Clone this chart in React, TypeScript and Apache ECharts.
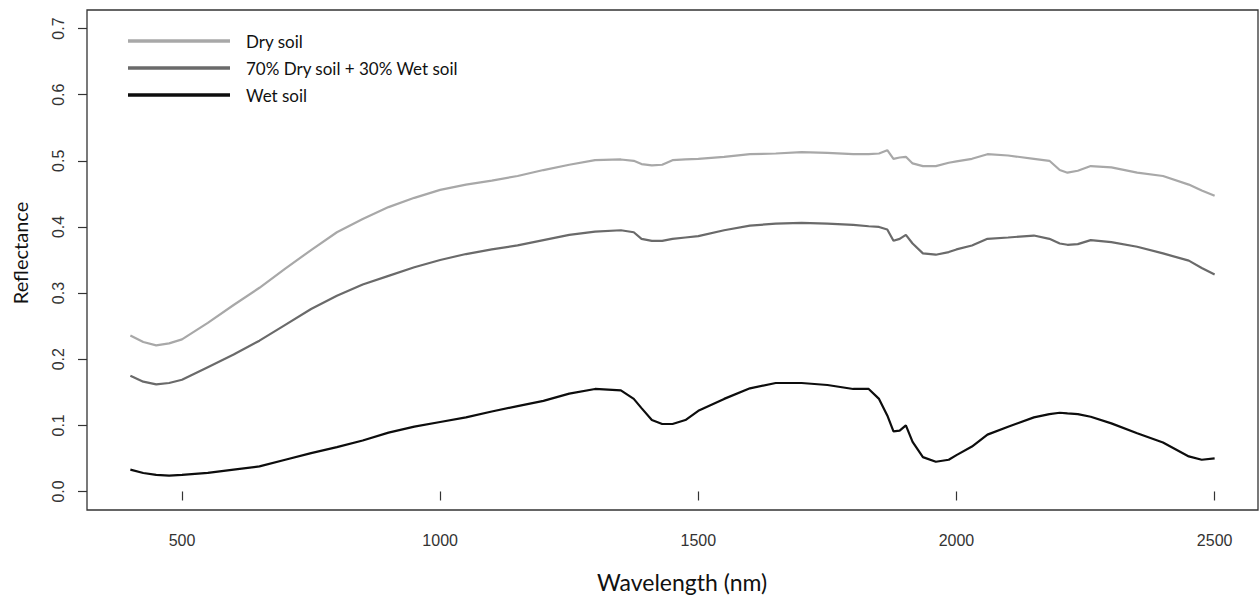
import React, { useEffect, useRef } from "react";
import * as echarts from "echarts";

const wavelengths = [
  400, 425, 450, 475, 500, 550, 600, 650, 700, 750, 800, 850, 900, 950, 1000,
  1050, 1100, 1150, 1200, 1250, 1300, 1350, 1375, 1390, 1410, 1430, 1450, 1475,
  1500, 1550, 1600, 1650, 1700, 1750, 1800, 1830, 1850, 1866, 1878, 1890, 1902,
  1915, 1935, 1960, 1985, 2000, 2030, 2060, 2100, 2150, 2180, 2200, 2215, 2235,
  2260, 2300, 2350, 2400, 2450, 2475, 2500,
];

const drySoil = [
  0.236, 0.226, 0.221, 0.224, 0.23, 0.255, 0.282, 0.308, 0.337, 0.365, 0.392,
  0.412, 0.43, 0.444, 0.456, 0.464, 0.47, 0.477, 0.486, 0.494, 0.501, 0.502,
  0.5, 0.495, 0.493, 0.494, 0.501, 0.502, 0.503, 0.506, 0.51, 0.511, 0.513,
  0.512, 0.51, 0.51, 0.511, 0.516, 0.503, 0.505, 0.506, 0.496, 0.492, 0.492,
  0.497, 0.499, 0.503, 0.51, 0.508, 0.503, 0.5, 0.486, 0.482, 0.485, 0.492,
  0.49, 0.482, 0.477, 0.464, 0.455, 0.447,
];

const mixSoil = [
  0.175, 0.166, 0.162, 0.164, 0.169, 0.188, 0.207, 0.228, 0.252, 0.276, 0.296,
  0.313, 0.326, 0.339, 0.35, 0.359, 0.366, 0.372, 0.38, 0.388, 0.393, 0.395,
  0.392, 0.382, 0.379, 0.379, 0.382, 0.384, 0.386, 0.395, 0.402, 0.405, 0.406,
  0.405, 0.403, 0.401, 0.4, 0.396, 0.379, 0.382, 0.388, 0.375, 0.36, 0.358,
  0.362, 0.366, 0.372, 0.382, 0.384, 0.387, 0.382, 0.375, 0.373, 0.374, 0.38,
  0.377, 0.37, 0.36, 0.349, 0.338, 0.328,
];

const wetSoil = [
  0.033, 0.028, 0.025, 0.024, 0.025, 0.028, 0.033, 0.038, 0.048, 0.058, 0.067,
  0.077, 0.089, 0.098, 0.105, 0.112, 0.121, 0.129, 0.137, 0.148, 0.155, 0.153,
  0.14, 0.126, 0.108, 0.102, 0.102, 0.108, 0.122, 0.14, 0.156, 0.164, 0.164,
  0.161, 0.155, 0.155, 0.14, 0.115, 0.091, 0.092, 0.1, 0.075, 0.052, 0.045,
  0.048, 0.055, 0.068, 0.086, 0.098, 0.112, 0.117, 0.119, 0.118, 0.117, 0.113,
  0.103, 0.088, 0.074, 0.053, 0.048, 0.05,
];

const xTicks = [500, 1000, 1500, 2000, 2500];
const yTicks = [0, 0.1, 0.2, 0.3, 0.4, 0.5, 0.6, 0.7];
const seriesNames = ["Dry soil", "70% Dry soil + 30% Wet soil", "Wet soil"];
const seriesColors = ["#a8a8a8", "#6a6a6a", "#0d0d0d"];
const xTitle = "Wavelength (nm)";
const yTitle = "Reflectance";

export default function App() {
  const ref = useRef<HTMLDivElement>(null);

  useEffect(() => {
    const chart = echarts.init(ref.current as HTMLDivElement, null, {
      renderer: "svg",
    });
    const seriesData = [drySoil, mixSoil, wetSoil];
    const pair = (ys: number[]) => wavelengths.map((w, i) => [w, ys[i]]);
    const tickFont = {
      fontFamily: "'Liberation Sans', Arial, sans-serif",
      fontSize: 16,
      color: "#333",
    };
    const legendY = [41, 68, 95];

    chart.setOption({
      animation: false,
      backgroundColor: "#ffffff",
      grid: {
        left: 87,
        top: 10,
        right: 2,
        bottom: 86,
        show: true,
        borderColor: "#333",
        borderWidth: 1.3,
        backgroundColor: "transparent",
      },
      xAxis: {
        type: "value",
        min: 316,
        max: 2584,
        splitLine: { show: false },
        axisLine: { show: false },
        axisTick: {
          show: true,
          customValues: xTicks,
          length: 9,
          lineStyle: { color: "#333", width: 1.2 },
        },
        axisLabel: {
          customValues: xTicks,
          margin: 22,
          formatter: (v: number) => String(v),
          ...tickFont,
        },
      },
      yAxis: {
        type: "value",
        min: -0.028,
        max: 0.728,
        splitLine: { show: false },
        axisLine: { show: false },
        axisTick: {
          show: true,
          customValues: yTicks,
          length: 9,
          lineStyle: { color: "#333", width: 1.2 },
        },
        axisLabel: {
          customValues: yTicks,
          rotate: 90,
          margin: 21,
          formatter: (v: number) => v.toFixed(1),
          ...tickFont,
        },
      },
      graphic: [
        ...seriesNames.flatMap((name, i) => [
          {
            type: "line",
            shape: { x1: 128, y1: legendY[i], x2: 230, y2: legendY[i] },
            style: { stroke: seriesColors[i], lineWidth: 3.5 },
          },
          {
            type: "text",
            x: 246,
            y: legendY[i],
            style: {
              text: name,
              fill: "#111",
              font: "17px Lato, 'Open Sans', sans-serif",
              textAlign: "left",
              textVerticalAlign: "middle",
            },
          },
        ]),
        {
          type: "text",
          x: 597,
          y: 582,
          style: {
            text: xTitle,
            fill: "#111",
            font: "23px Lato, 'Open Sans', sans-serif",
            textAlign: "left",
            textVerticalAlign: "middle",
          },
        },
        {
          type: "text",
          x: 20,
          y: 253,
          rotation: Math.PI / 2,
          style: {
            text: yTitle,
            fill: "#111",
            font: "20px Lato, 'Open Sans', sans-serif",
            textAlign: "center",
            textVerticalAlign: "middle",
          },
        },
      ],
      series: seriesData.map((ys, i) => ({
        name: seriesNames[i],
        type: "line",
        data: pair(ys),
        showSymbol: false,
        symbol: "none",
        smooth: false,
        lineStyle: { color: seriesColors[i], width: 2.2 },
        z: 3 - i,
      })),
    });

    return () => {
      chart.dispose();
    };
  }, []);

  return (
    <div
      ref={ref}
      style={{
        position: "fixed",
        left: 0,
        top: 0,
        width: 1260,
        height: 596,
        background: "#fff",
      }}
    />
  );
}
